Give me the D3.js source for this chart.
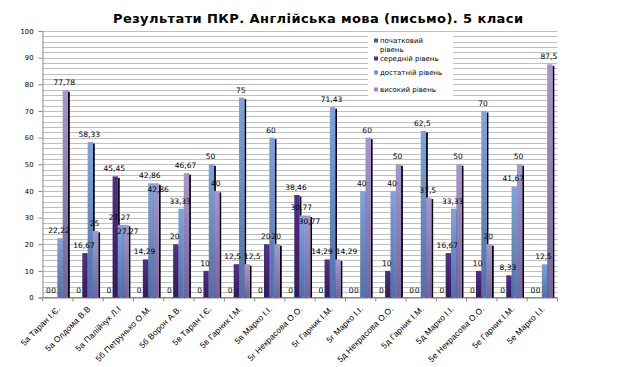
<!DOCTYPE html>
<html><head><meta charset="utf-8">
<script src="https://cdn.jsdelivr.net/npm/d3@7"></script>
<style>body{margin:0;background:#fff}svg{display:block}</style>
</head><body>
<svg id="chart" width="635" height="367"></svg>
<script>
const categories = ["5а Таран І.Є.","5а Олдома В.В","5а Палійчук Л.І","5б Петрунько О.М.","5б Ворон А.В.","5в Таран І.Є.","5в Гарник І.М.","5в Марко І.І.","5г Некрасова О.О.","5г Гарник І.М.","5г Марко І.І.","5д Некрасова О.О.","5д Гарник І.М.","5д Марко І.І.","5е Некрасова О.О.","5е Гарник І.М.","5е Марко І.І."];
const seriesNames = ["початковий рівень","середній рівень","достатній рівень","високий рівень"];
const initialLevel = [0,0,0,0,0,0,0,0,0,0,0,0,0,0,0,0,0];
const mediumLevel = [0,16.67,45.45,14.29,20,10,12.5,20,38.46,14.29,0,10,0,16.67,10,8.33,0];
const sufficientLevel = [22.22,58.33,27.27,42.86,33.33,50,75,60,30.77,71.43,40,40,62.5,33.33,70,41.67,12.5];
const highLevel = [77.78,25,27.27,42.86,46.67,40,12.5,20,30.77,14.29,60,50,37.5,50,20,50,87.5];
const yTicks = [0,10,20,30,40,50,60,70,80,90,100];
const title = "Результати ПКР. Англійська мова (письмо). 5 класи";

const seriesValues = [initialLevel, mediumLevel, sufficientLevel, highLevel];
const colors = [["#2a5cb0","#1b3f80"],["#52308c","#34195e"],["#7ea3de","#4f70a8"],["#a896cc","#75639c"]];
const legendColors = ["#2a5fb4","#55308e","#7099d8","#9c89c6"];

const svg = d3.select("#chart");
const defs = svg.append("defs");
colors.forEach((c,i)=>{
  const g = defs.append("linearGradient").attr("id","g"+i).attr("x1",0).attr("y1",0).attr("x2",0).attr("y2",1);
  g.append("stop").attr("offset","0%").attr("stop-color",c[0]);
  g.append("stop").attr("offset","100%").attr("stop-color",c[1]);
});

const L = 42.5, R = 557.5, T = 31, B = 297.5;
const y = d3.scaleLinear().domain([0,100]).range([B,T]);
const x0 = d3.scaleBand().domain(categories).range([L+0.2,R]).paddingInner(0).paddingOuter(0);
const x1 = d3.scaleBand().domain(seriesNames).range([0,x0.bandwidth()-1]).paddingInner(0).paddingOuter(0.75);

// gridlines
svg.append("g").selectAll("line").data(d3.range(0,101,2)).join("line")
  .attr("x1",L).attr("x2",R).attr("y1",d=>Math.round(y(d))+0.5).attr("y2",d=>Math.round(y(d))+0.5)
  .attr("stroke","#b0b0b0").attr("stroke-width",0.8);

// y axis
const yAxis = d3.axisLeft(y).tickValues(yTicks).tickSize(4).tickPadding(5);
const ya = svg.append("g").attr("transform",`translate(${L},0)`).call(yAxis);
ya.select(".domain").attr("stroke","#8a8a8a");
ya.selectAll(".tick line").attr("stroke","#8a8a8a");
ya.selectAll(".tick text").attr("font-family","DejaVu Sans").attr("font-size","6.8px").attr("fill","#000");

// x axis
const xa = svg.append("g").attr("transform",`translate(0,${B})`);
xa.append("line").attr("x1",L).attr("x2",R).attr("y1",0).attr("y2",0).attr("stroke","#8a8a8a");
const bounds = categories.map(c=>x0(c)).concat([x0(categories[categories.length-1])+x0.bandwidth()]);
xa.selectAll("line.t").data(bounds).join("line").attr("class","t")
  .attr("x1",d=>d).attr("x2",d=>d).attr("y1",0).attr("y2",4).attr("stroke","#8a8a8a");
xa.selectAll("text").data(categories).join("text")
  .attr("transform",d=>`translate(${x0(d)+x0.bandwidth()/2+3},${12}) rotate(-45)`)
  .attr("text-anchor","end").attr("font-family","Liberation Sans").attr("font-size","8.3px").attr("fill","#000")
  .attr("letter-spacing","0.15px")
  .text(d=>d);

// bars
const groups = svg.append("g").selectAll("g").data(categories).join("g")
  .attr("transform",d=>`translate(${x0(d)},0)`);
groups.each(function(cat,ci){
  const g = d3.select(this);
  seriesNames.forEach((s,si)=>{
    const v = seriesValues[si][ci];
    if(v<=0) return;
    const bx = x1(s), bw = x1.bandwidth();
    g.append("rect").attr("x",bx+bw).attr("y",y(v)+1.5).attr("width",1.8).attr("height",B-y(v)-1.5).attr("fill","#000");
    g.append("rect").attr("x",bx).attr("y",y(v)).attr("width",bw).attr("height",B-y(v)).attr("fill",`url(#g${si})`);
  });
});
// labels with simple overlap resolution
groups.each(function(cat,ci){
  const g = d3.select(this);
  const labs = seriesNames.map((s,si)=>{
    const v = seriesValues[si][ci];
    const t = g.append("text").attr("text-anchor","middle").attr("font-family","DejaVu Sans")
      .attr("font-size","7.5px").attr("fill","#000").text(String(v).replace(".",","));
    return {t, si, x:x1(s)+x1.bandwidth()/2-1, y:y(v)-5, w:t.node().getComputedTextLength()};
  });
  for(let i=1;i<labs.length;i++){
    for(let j=0;j<i;j++){
      const a=labs[j], b=labs[i];
      const hOv = Math.abs(b.x-a.x) < (a.w+b.w)/2;
      const vOv = Math.abs(b.y-a.y) < 8;
      if(hOv && vOv){
        if(i-j===1){ b.y += 14; b.x += 3; }
        else {
          const ov = (a.w+b.w)/2 + 3 - (b.x-a.x);
          a.x -= ov*0.3; b.x += ov*0.7;
        }
      }
    }
  }
  labs.forEach(l=>l.t.attr("x",l.x).attr("y",l.y));
});

// legend
const lg = svg.append("g");
lg.append("rect").attr("x",368).attr("y",33).attr("width",85).attr("height",64).attr("fill","#fff");
const legendItems = [{n:0,lines:["початковий","рівень"],y:43},{n:1,lines:["середній рівень"],y:61},{n:2,lines:["достатній рівень"],y:75},{n:3,lines:["високий рівень"],y:92}];
legendItems.forEach(it=>{
  lg.append("rect").attr("x",374).attr("y",it.y-4.5).attr("width",4).attr("height",4).attr("fill",legendColors[it.n]);
  it.lines.forEach((t,k)=>{
    lg.append("text").attr("x",380).attr("y",it.y+k*9).attr("font-family","DejaVu Sans").attr("font-size","7px").attr("fill","#000").text(t);
  });
});

// title
svg.append("text").attr("x",318).attr("y",23).attr("text-anchor","middle")
  .attr("font-family","DejaVu Sans").attr("font-weight","bold").attr("font-size","13px")
  .attr("textLength",410).attr("lengthAdjust","spacing").attr("fill","#000").text(title);
</script>
</body></html>
